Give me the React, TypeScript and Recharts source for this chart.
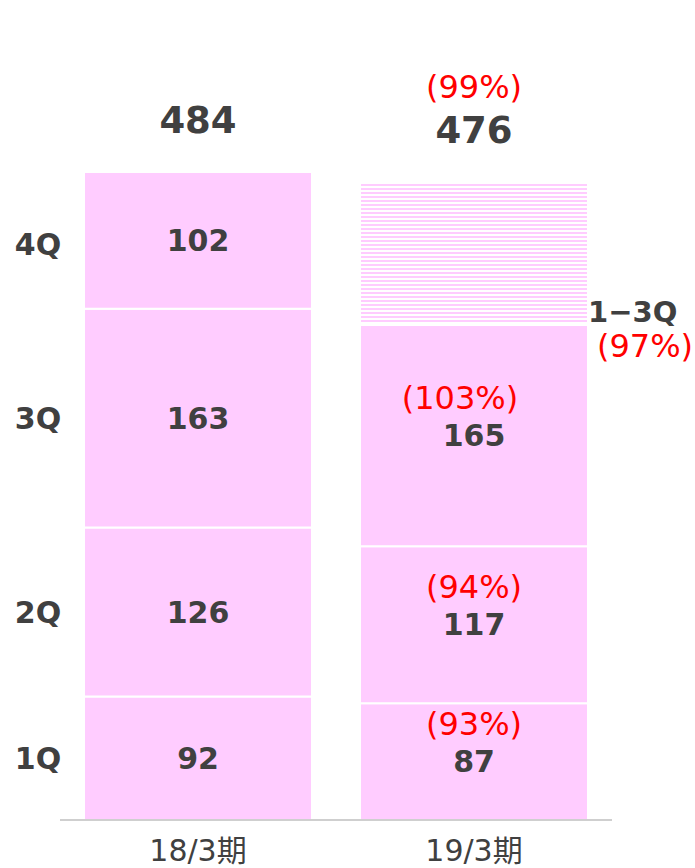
import React from 'react';
import { BarChart, Bar, XAxis, YAxis, LabelList, Cell } from 'recharts';

const periods = ['18/3期', '19/3期'];
const q1 = [92, 87];
const q2 = [126, 117];
const q3 = [163, 165];
const q4 = [102, 107]; // 19/3 4Q = forecast (hatched, no label)
const totals = [484, 476];
const quarterNames = ['1Q', '2Q', '3Q', '4Q'];
const ratioQ1 = ['', '(93%)'];
const ratioQ2 = ['', '(94%)'];
const ratioQ3 = ['', '(103%)'];
const totalRatio = ['', '(99%)'];
const cumLabel = '1−3Q';
const cumRatio = '(97%)';

const data = periods.map((p, i) => ({
  period: p, q1: q1[i], q2: q2[i], q3: q3[i], q4: q4[i],
}));

const PINK = '#FFCCFF';
const DARK = '#404040';
const RED = '#FF0000';
const FONT = "'DejaVu Sans', 'Noto Sans CJK JP', sans-serif";

// value label in the middle of each segment, ratio above it on the 2nd bar,
// quarter name at the left of the 1st bar
function segLabel(values: number[], ratios: string[], qName: string) {
  return (props: any) => {
    const { x, y, width, height, index } = props;
    const cx = x + width / 2;
    const cy = y + height / 2;
    return (
      <g style={{ fontFamily: FONT }}>
        {index === 0 && (
          <text x={38} y={cy} textAnchor="middle" dominantBaseline="central"
            fontSize={30} fontWeight={700} fill={DARK}>{qName}</text>
        )}
        <text x={cx} y={cy} textAnchor="middle" dominantBaseline="central"
          fontSize={30} fontWeight={700} fill={DARK}>{values[index]}</text>
        {ratios[index] && (
          <text x={cx - (ratios[index].length > 5 ? 14 : 0)} y={cy - 38} textAnchor="middle"
            dominantBaseline="central" fontSize={32} fill={RED}>{ratios[index]}</text>
        )}
      </g>
    );
  };
}

const q3Label = (props: any) => {
  const base = segLabel(q3, ratioQ3, '3Q')(props);
  const { x, y, width, index } = props;
  return (
    <g>
      {base}
      {index === 1 && (
        <g style={{ fontFamily: FONT }}>
          <text x={x + width} y={y - 13} dominantBaseline="central"
            fontSize={29} fontWeight={700} fill={DARK}>{cumLabel}</text>
          <text x={x + width + 9} y={y + 21} dominantBaseline="central"
            fontSize={32} fill={RED}>{cumRatio}</text>
        </g>
      )}
    </g>
  );
};

const q4Label = (props: any) => {
  const { x, y, width, height, index } = props;
  const cx = x + width / 2;
  return (
    <g style={{ fontFamily: FONT }}>
      {index === 0 && (
        <>
          <text x={38} y={y + height / 2 + 4} textAnchor="middle" dominantBaseline="central"
            fontSize={30} fontWeight={700} fill={DARK}>{quarterNames[3]}</text>
          <text x={cx} y={y + height / 2} textAnchor="middle" dominantBaseline="central"
            fontSize={30} fontWeight={700} fill={DARK}>{q4[index]}</text>
        </>
      )}
      <text x={cx} y={y - 51} textAnchor="middle" dominantBaseline="central"
        fontSize={37} fontWeight={700} fill={DARK}>{totals[index]}</text>
      {totalRatio[index] && (
        <text x={cx} y={y - 94} textAnchor="middle" dominantBaseline="central"
          fontSize={32} fill={RED}>{totalRatio[index]}</text>
      )}
    </g>
  );
};

const PeriodTick = (props: any) => {
  const { x, payload } = props;
  return (
    <text x={x} y={850} textAnchor="middle" dominantBaseline="central"
      fontSize={30} fill={DARK} style={{ fontFamily: FONT }}>{payload.value}</text>
  );
};

export default function App() {
  return (
    <div style={{ position: 'absolute', left: 0, top: 0, width: 695, height: 868, background: '#fff' }}>
      <BarChart width={695} height={868} data={data}
        margin={{ top: 15, right: 83, left: 60, bottom: 0 }} barSize={228}>
        <defs>
          <pattern id="stripes" patternUnits="userSpaceOnUse" width={4} height={4}>
            <rect x={0} y={0} width={4} height={2} fill={PINK} />
          </pattern>
        </defs>
        <XAxis dataKey="period" height={48} tickLine={false} tick={<PeriodTick />}
          axisLine={{ stroke: '#BFBFBF', strokeWidth: 1.5 }} />
        <YAxis hide domain={[0, 600]} />
        <Bar dataKey="q1" stackId="a" fill={PINK} stroke="#fff" strokeWidth={2} isAnimationActive={false}>
          <LabelList dataKey="q1" content={segLabel(q1, ratioQ1, quarterNames[0])} />
        </Bar>
        <Bar dataKey="q2" stackId="a" fill={PINK} stroke="#fff" strokeWidth={2} isAnimationActive={false}>
          <LabelList dataKey="q2" content={segLabel(q2, ratioQ2, quarterNames[1])} />
        </Bar>
        <Bar dataKey="q3" stackId="a" fill={PINK} stroke="#fff" strokeWidth={2} isAnimationActive={false}>
          <LabelList dataKey="q3" content={q3Label} />
        </Bar>
        <Bar dataKey="q4" stackId="a" fill={PINK} stroke="#fff" strokeWidth={2} isAnimationActive={false}>
          {data.map((_, i) => (
            <Cell key={i} fill={i === 1 ? 'url(#stripes)' : PINK} />
          ))}
          <LabelList dataKey="q4" content={q4Label} />
        </Bar>
      </BarChart>
    </div>
  );
}
